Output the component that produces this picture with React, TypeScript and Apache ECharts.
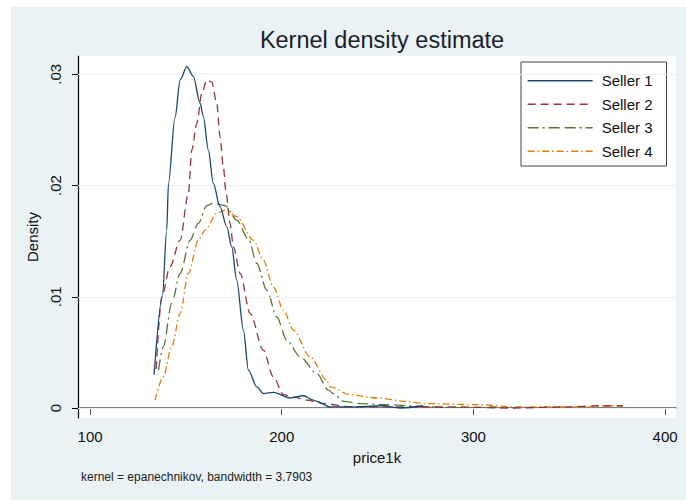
import React, { useEffect, useRef } from "react";
import * as echarts from "echarts";

const seriesNames = ["Seller 1", "Seller 2", "Seller 3", "Seller 4"];
const xTicks = [100, 200, 300, 400];
const yTicks = [0, 0.01, 0.02, 0.03];

const s1X = [133.4, 137.7, 140.0, 140.9, 144.3, 147.0, 150.5, 153.9, 157.4, 159.1, 161.7, 164.3, 167.8, 171.3, 173.9, 176.5, 180.0, 182.6, 187.0, 190.4, 195.6, 204.3, 211.3, 216.5, 218.3, 225.2, 235.6, 252.9, 261.7, 273.7];
const s1Y = [0.0030, 0.0100, 0.0160, 0.0202, 0.0261, 0.0295, 0.0307, 0.0298, 0.0274, 0.0262, 0.0232, 0.0202, 0.0181, 0.0163, 0.0145, 0.0115, 0.0070, 0.0034, 0.0019, 0.0013, 0.0014, 0.0009, 0.0011, 0.0007, 0.0006, 0.0001, 0.0001, 0.0002, 0.0000, 0.0002];

const s2X = [134.5, 137.4, 141.7, 147.0, 151.3, 153.1, 155.7, 158.3, 160.9, 163.5, 166.1, 167.8, 169.5, 171.0, 173.0, 174.8, 178.3, 183.5, 190.4, 195.6, 200.9, 206.1, 213.1, 221.7, 235.6, 260, 290, 320, 350, 364, 378];
const s2Y = [0.0035, 0.0100, 0.0127, 0.0151, 0.0193, 0.0232, 0.0256, 0.0283, 0.0295, 0.0293, 0.0274, 0.0244, 0.0217, 0.0193, 0.0166, 0.0145, 0.0121, 0.0085, 0.0052, 0.0028, 0.0012, 0.0010, 0.0007, 0.0004, 0.0001, 0.0001, 0.0001, 0.0000, 0.0001, 0.0002, 0.0002];

const s3X = [135.7, 138.2, 142.6, 147.0, 152.2, 156.5, 160.9, 164.3, 170.4, 176.5, 182.6, 187.0, 192.2, 197.4, 202.6, 209.6, 218.3, 224.3, 226.9, 232.2, 240.9, 253.0, 279, 297, 312];
const s3Y = [0.0034, 0.0055, 0.0094, 0.0121, 0.0151, 0.0166, 0.0182, 0.0184, 0.0182, 0.0169, 0.0152, 0.0130, 0.0106, 0.0082, 0.0061, 0.0046, 0.0031, 0.0016, 0.0013, 0.0006, 0.0004, 0.0003, 0.0001, 0.0000, 0.0001];

const s4X = [133.9, 138.2, 142.6, 147.0, 151.3, 156.5, 160.0, 166.1, 170.4, 176.5, 185.2, 190.4, 195.6, 200.9, 206.1, 214.8, 223.5, 225.2, 235.6, 249.6, 265.2, 273.9, 301.7, 322.6, 357, 374.8, 378];
const s4Y = [0.0007, 0.0028, 0.0055, 0.0085, 0.0121, 0.0151, 0.0160, 0.0175, 0.0178, 0.0172, 0.0151, 0.0133, 0.0109, 0.0088, 0.0070, 0.0046, 0.0025, 0.0019, 0.0012, 0.0009, 0.0006, 0.0004, 0.0003, 0.0001, 0.0001, 0.0002, 0.0002];

const FONT = "'Liberation Sans', Arial, sans-serif";

function pairs(xs: number[], ys: number[]) {
  return xs.map((x, i) => [x, ys[i]]);
}

export default function App() {
  const ref = useRef<HTMLDivElement>(null);
  useEffect(() => {
    document.body.style.margin = "0";
    const chart = echarts.init(ref.current!, null, { renderer: "svg" });
    const colors = ["#1a476f", "#90353b", "#55752f", "#e37e00"];
    const dashes: any[] = ["solid", [8, 5], [11, 4, 2, 4, 11, 5], [7, 3, 1.5, 3]];
    const datas = [pairs(s1X, s1Y), pairs(s2X, s2Y), pairs(s3X, s3Y), pairs(s4X, s4Y)];
    const series: any[] = [
      {
        type: "line",
        name: "grid",
        data: [],
        z: 1,
        silent: true,
        markLine: {
          silent: true,
          symbol: ["none", "none"],
          label: { show: false },
          lineStyle: { color: "#eaf2f3", width: 1, type: "solid" },
          data: yTicks.map((v) => ({ yAxis: v })),
        },
      },
    ];
    seriesNames.forEach((n, i) => {
      series.push({
        type: "line",
        name: n,
        data: datas[i],
        showSymbol: false,
        symbol: "none",
        smooth: 0.3,
        smoothMonotone: "x",
        clip: false,
        color: colors[i],
        lineStyle: { color: colors[i], width: 1.3, type: dashes[i] },
        z: 3 + (3 - i),
      });
    });
    chart.setOption({
      animation: false,
      textStyle: { fontFamily: FONT },
      title: {
        text: "Kernel density estimate",
        left: 377,
        top: 23,
        textAlign: "center",
        textStyle: { fontFamily: FONT, fontSize: 23.5, fontWeight: "normal", color: "#1b1f2e" },
      },
      legend: {
        data: seriesNames,
        orient: "vertical",
        left: 521,
        top: 62,
        padding: [10, 14, 6, 6],
        itemWidth: 65,
        itemHeight: 10,
        itemGap: 6,
        backgroundColor: "#ffffff",
        borderColor: "#444",
        borderWidth: 1,
        itemStyle: { opacity: 0 },
        lineStyle: { width: 1.3 },
        textStyle: { fontFamily: FONT, fontSize: 15, color: "#111", padding: [0, 0, 0, 4], lineHeight: 17.5 },
      },
      grid: {
        left: 78,
        right: 10,
        top: 56,
        bottom: 83,
        show: true,
        backgroundColor: "#ffffff",
        borderWidth: 0,
      },
      xAxis: {
        type: "value",
        min: 93.7,
        max: 405.7,
        name: "price1k",
        nameLocation: "middle",
        nameGap: 32,
        nameTextStyle: { fontFamily: FONT, fontSize: 15, color: "#111" },
        axisLine: { show: true, lineStyle: { color: "#555", width: 1.5 } },
        axisTick: { show: true, customValues: xTicks, length: 7, lineStyle: { color: "#555" } },
        axisLabel: { customValues: xTicks, margin: 11, fontFamily: FONT, fontSize: 15, color: "#111" },
        splitLine: { show: false },
      },
      yAxis: {
        type: "value",
        min: -0.0009,
        max: 0.03165,
        name: "Density",
        nameLocation: "middle",
        nameGap: 30,
        nameTextStyle: { fontFamily: FONT, fontSize: 15, color: "#111" },
        axisLine: { show: true, lineStyle: { color: "#000", width: 1.2 } },
        axisTick: { show: true, customValues: yTicks, length: 6, lineStyle: { color: "#000" } },
        axisLabel: {
          customValues: yTicks,
          rotate: 90,
          margin: 15,
          fontFamily: FONT,
          fontSize: 15,
          color: "#111",
          formatter: (v: number) => (v === 0 ? "0" : "." + String(Math.round(v * 100)).padStart(2, "0")),
        },
        splitLine: { show: false },
      },
      graphic: [
        {
          type: "text",
          left: 81,
          top: 471,
          style: { text: "kernel = epanechnikov, bandwidth = 3.7903", font: "12px " + FONT, fill: "#222" },
        },
      ],
      series,
    });
    return () => chart.dispose();
  }, []);
  return (
    <div style={{ position: "relative", width: 686, height: 501, background: "#ffffff" }}>
      <div style={{ position: "absolute", left: 11, top: 7, right: 0, bottom: 1, background: "#eaf2f3" }} />
      <div ref={ref} style={{ position: "absolute", left: 0, top: 0, width: 686, height: 501 }} />
    </div>
  );
}
